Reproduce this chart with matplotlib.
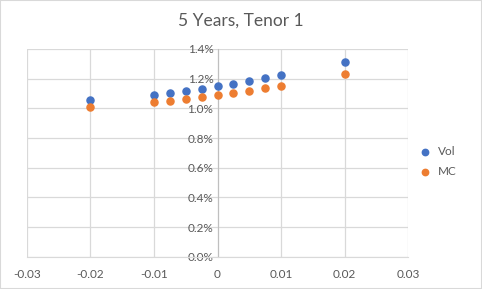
import matplotlib.pyplot as plt
from matplotlib.ticker import PercentFormatter

# Dados
x = [-0.02, -0.01, -0.0075, -0.005, -0.0025, 0.0, 0.0025, 0.005, 0.0075, 0.01, 0.02]
vol = [1.059, 1.092, 1.106, 1.119, 1.133, 1.152, 1.166, 1.186, 1.206, 1.226, 1.313]
mc = [1.009, 1.045, 1.049, 1.063, 1.076, 1.092, 1.106, 1.119, 1.139, 1.152, 1.233]
xticks = [-0.03, -0.02, -0.01, 0, 0.01, 0.02, 0.03]
xlabels = ["-0.03", "-0.02", "-0.01", "0", "0.01", "0.02", "0.03"]

plt.rcParams['font.family'] = ['Lato', 'DejaVu Sans']
cinza = '#595959'
grade = '#D9D9D9'

fig = plt.figure(figsize=(4.82, 2.89), dpi=100)
ax = fig.add_axes([0.056, 0.111, 0.7905, 0.7197])

ax.scatter(x, vol, s=26, color='#4472C4', label='Vol', zorder=3)
ax.scatter(x, mc, s=26, color='#ED7D31', label='MC', zorder=3)

ax.set_xlim(-0.03, 0.03)
ax.set_ylim(0, 1.4)
ax.set_xticks(xticks)
ax.set_xticklabels(xlabels)
ax.set_yticks([i * 0.2 for i in range(8)])
ax.yaxis.set_major_formatter(PercentFormatter(decimals=1))

ax.grid(True, color=grade, linewidth=0.9)
ax.set_axisbelow(True)

# Eixo y cruzando em x=0
ax.spines['left'].set_position(('data', 0))
ax.spines['left'].set_color('#BFBFBF')
ax.spines['bottom'].set_color(grade)
ax.spines['top'].set_visible(False)
ax.spines['right'].set_visible(False)
ax.tick_params(length=0, colors=cinza, labelsize=8.5)
ax.tick_params(axis='x', pad=9)
ax.tick_params(axis='y', pad=3)

fig.text(0.5, 0.93, '5 Years, Tenor 1', ha='center', va='center',
         fontsize=12.5, color=cinza)

fig.legend(loc='center left', bbox_to_anchor=(0.835, 0.44), frameon=False,
           fontsize=8.5, labelcolor=cinza, handletextpad=0.1,
           markerscale=0.9, labelspacing=0.75)

fig.patches.append(plt.Rectangle((0, 0), 1, 1, transform=fig.transFigure,
                                 fill=False, edgecolor='#D9D9D9', linewidth=1.5))

plt.savefig('out.png', dpi=100)
